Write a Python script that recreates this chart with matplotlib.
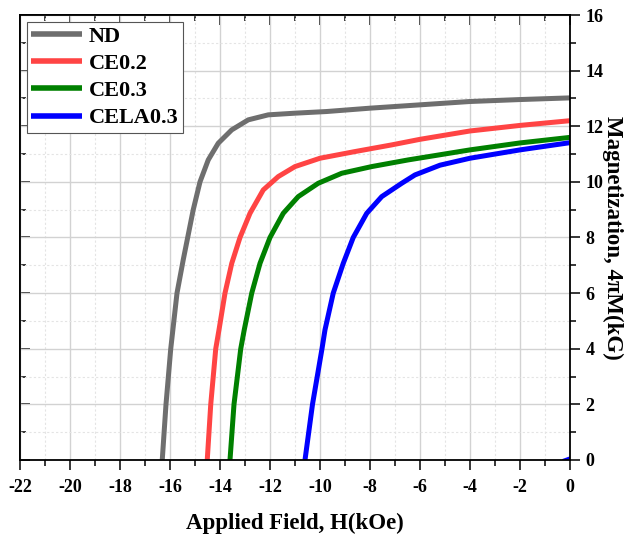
import matplotlib
matplotlib.use('Agg')
import matplotlib.pyplot as plt
from matplotlib.ticker import MultipleLocator

plt.rcParams['font.family'] = ['Liberation Serif', 'DejaVu Serif']
plt.rcParams['font.weight'] = 'bold'
plt.rcParams['axes.unicode_minus'] = False

# demagnetization curves
nd_h = [-16.31, -16.16, -15.97, -15.72, -15.47, -15.27, -15.07, -14.8, -14.47, -14.07,
        -13.53, -12.87, -12.07, -11.0, -9.73, -8, -6, -4, -2, 0]
nd_m = [0, 2, 4, 6, 7.2, 8.1, 9.0, 10.0, 10.79, 11.39,
        11.87, 12.23, 12.41, 12.47, 12.53, 12.65, 12.77, 12.89, 12.96, 13.02]

ce02_h = [-14.51, -14.37, -14.17, -14.04, -13.8, -13.53, -13.2, -12.8, -12.27, -11.67,
          -11.0, -10.0, -8.6, -7.13, -6.0, -4.0, -2.0, 0]
ce02_m = [0, 2, 4, 4.68, 6, 7.07, 8, 8.87, 9.71, 10.19,
          10.55, 10.85, 11.09, 11.33, 11.53, 11.83, 12.03, 12.2]

ce03_h = [-13.6, -13.44, -13.17, -13.03, -12.73, -12.4, -12.0, -11.47, -10.87, -10.07,
          -9.13, -7.93, -6.47, -4.0, -2.0, 0]
ce03_m = [0, 2, 4, 4.68, 6, 7.07, 8, 8.87, 9.47, 9.95,
          10.31, 10.55, 10.79, 11.15, 11.4, 11.6]

cela03_h = [-10.6, -10.3, -9.92, -9.8, -9.47, -9.07, -8.67, -8.13, -7.53, -6.73,
            -6.2, -5.2, -4.0, -2.0, 0]
cela03_m = [0, 2, 4, 4.68, 6, 7.07, 8, 8.87, 9.47, 9.95,
            10.25, 10.6, 10.85, 11.15, 11.41]
cela03_tail_h = [-0.25, 0]
cela03_tail_m = [0.0, 0.08]

labels = ['ND', 'CE0.2', 'CE0.3', 'CELA0.3']
colors = ['#6e6e6e', '#ff4444', '#008000', '#0000ff']

fig = plt.figure(figsize=(6.31, 5.34), dpi=100)
ax = fig.add_axes([0.0317, 0.1386, 0.8716, 0.8333])

lw = 3.6
kw = dict(lw=lw, solid_joinstyle='round', solid_capstyle='butt')
ax.plot(nd_h, nd_m, color=colors[0], label=labels[0], **kw)
ax.plot(ce02_h, ce02_m, color=colors[1], label=labels[1], **kw)
ax.plot(ce03_h, ce03_m, color=colors[2], label=labels[2], **kw)
ax.plot(cela03_h, cela03_m, color=colors[3], label=labels[3], **kw)
ax.plot(cela03_tail_h, cela03_tail_m, color=colors[3], lw=2)

ax.set_xlim(-22, 0)
ax.set_ylim(0, 16)
ax.xaxis.set_major_locator(MultipleLocator(2))
ax.xaxis.set_minor_locator(MultipleLocator(1))
ax.yaxis.set_major_locator(MultipleLocator(2))
ax.yaxis.set_minor_locator(MultipleLocator(1))

ax.grid(which='major', color='#d2d2d2', lw=1.0, ls='-')
ax.grid(which='minor', color='#e4e4e4', lw=0.8, ls=(0, (2, 2)))
ax.set_axisbelow(True)

# bottom and right: outward ticks with labels
ax.yaxis.tick_right()
ax.tick_params(which='both', direction='out', width=1.1, labelsize=13)
ax.tick_params(which='major', length=7)
ax.tick_params(which='minor', length=4)
ax.tick_params(axis='x', pad=7)
ax.tick_params(axis='y', pad=4)

# top and left: inward ticks, no labels
top = ax.secondary_xaxis('top')
top.xaxis.set_major_locator(MultipleLocator(2))
top.xaxis.set_minor_locator(MultipleLocator(1))
top.tick_params(which='both', direction='in', width=1.1, labeltop=False)
top.tick_params(which='major', length=7)
top.tick_params(which='minor', length=4)
left = ax.secondary_yaxis('left')
left.yaxis.set_major_locator(MultipleLocator(2))
left.yaxis.set_minor_locator(MultipleLocator(1))
left.tick_params(which='both', direction='in', width=1.1, labelleft=False)
left.tick_params(which='major', length=7)
left.tick_params(which='minor', length=4)
for a in (ax, top, left):
    for s in a.spines.values():
        s.set_linewidth(1.3)

ax.set_xlabel('Applied Field, H(kOe)', fontsize=16.5, fontweight='bold', labelpad=12)
ax.yaxis.set_label_position('right')
ax.set_ylabel('Magnetization, 4πM(kG)', fontsize=16.5, fontweight='bold',
              rotation=270, va='center', ha='center')
ax.yaxis.set_label_coords(1.077, 0.5)

leg = ax.legend(loc='upper left', fontsize=16, frameon=True, fancybox=False,
                edgecolor='#555555', framealpha=1, handlelength=2.3,
                handletextpad=0.3, labelspacing=0.3, borderpad=0.2,
                borderaxespad=0.3)
leg.get_frame().set_linewidth(0.8)
for line in leg.get_lines():
    line.set_linewidth(4)

fig.savefig('out.png', dpi=100)
